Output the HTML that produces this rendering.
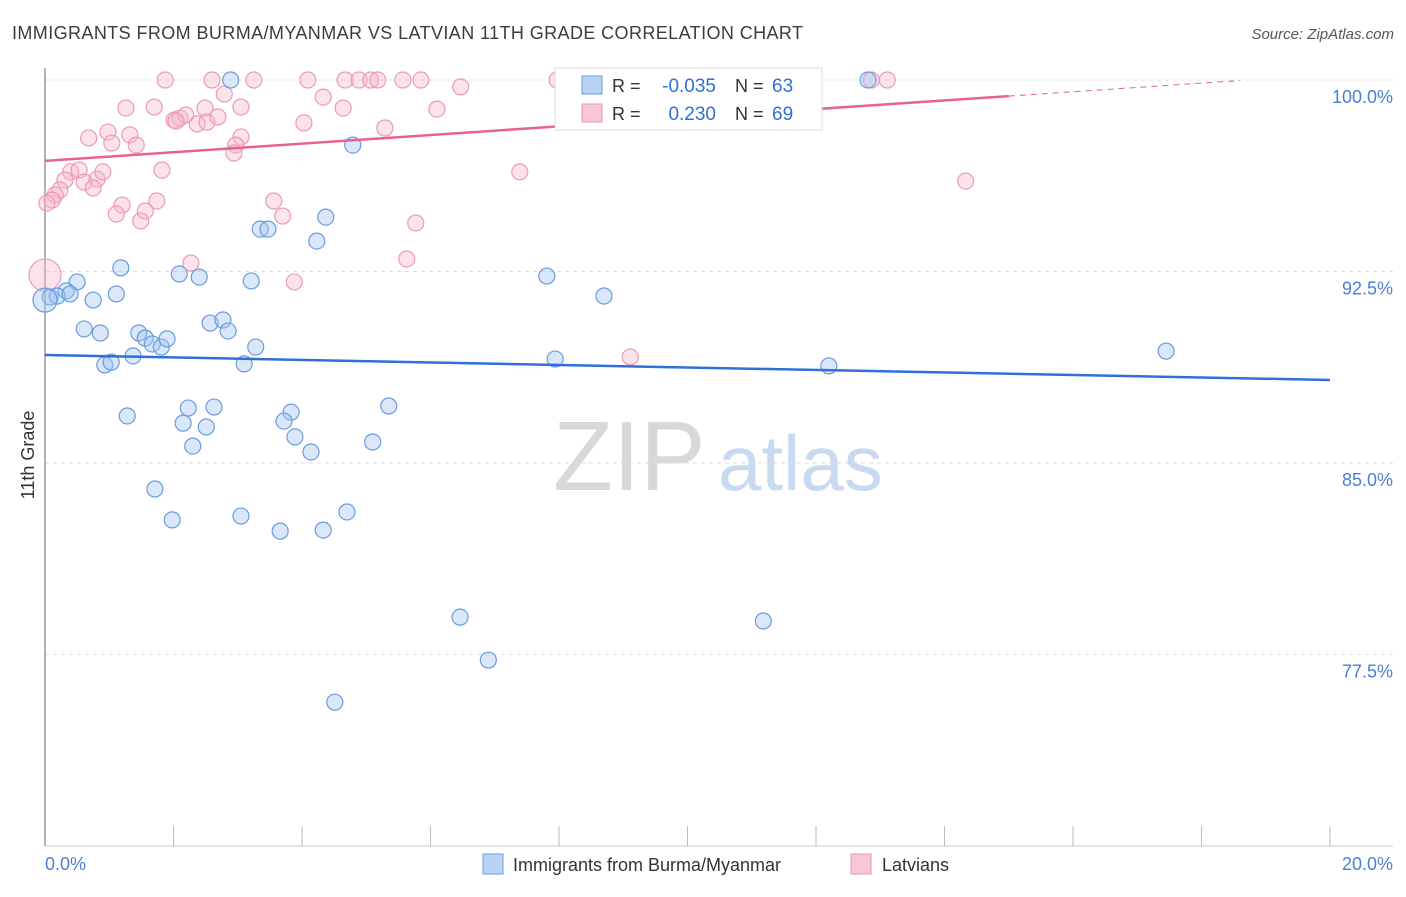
<!DOCTYPE html>
<html><head><meta charset="utf-8"><style>
body{margin:0;background:#fff;font-family:"Liberation Sans",sans-serif;}
svg text{font-family:"Liberation Sans",sans-serif;}
</style></head><body>
<svg id="chart" width="1406" height="892" xmlns="http://www.w3.org/2000/svg">
<text x="12" y="39" font-size="18" fill="#3c3c3c" textLength="791" lengthAdjust="spacing">IMMIGRANTS FROM BURMA/MYANMAR VS LATVIAN 11TH GRADE CORRELATION CHART</text>
<text x="1394" y="39" font-size="15" fill="#555" text-anchor="end" font-style="italic">Source: ZipAtlas.com</text>
<text x="553" y="490" font-size="98" fill="#d8d8d8" font-family="Liberation Serif">ZIP</text>
<text x="718" y="490" font-size="78" fill="#c9daf0">atlas</text>
<g id="grid"></g>
<line x1="45" y1="68" x2="45" y2="846" stroke="#999" stroke-width="1.5"/>
<line x1="45" y1="846" x2="1393" y2="846" stroke="#ccc"/>
<g id="xticks"></g>
<text transform="translate(34,455) rotate(-90)" font-size="18" fill="#333" text-anchor="middle">11th Grade</text>
<text x="45" y="870" font-size="18" fill="#4a7fd4">0.0%</text>
<text x="1393" y="870" font-size="18" fill="#4a7fd4" text-anchor="end">20.0%</text>
<g id="pink"></g><g id="blue"></g><g id="trends"></g>
<g>
<rect x="555" y="68" width="267" height="62" fill="#fff" stroke="#ddd"/>
<rect x="582" y="76" width="20" height="18" fill="#b9d3f5" stroke="#6a9be0"/>
<rect x="582" y="104" width="20" height="18" fill="#f9c6d5" stroke="#e895ae"/>
<text x="612" y="92" font-size="18" fill="#333">R =</text>
<text x="716" y="92" font-size="19" fill="#2f6fd6" text-anchor="end">-0.035</text>
<text x="735" y="92" font-size="18" fill="#333">N =</text>
<text x="772" y="92" font-size="19" fill="#2f6fd6">63</text>
<text x="612" y="120" font-size="18" fill="#333">R =</text>
<text x="716" y="120" font-size="19" fill="#2f6fd6" text-anchor="end">0.230</text>
<text x="735" y="120" font-size="18" fill="#333">N =</text>
<text x="772" y="120" font-size="19" fill="#2f6fd6">69</text>
</g>
<g>
<rect x="483" y="854" width="20" height="20" fill="#b9d3f5" stroke="#6a9be0"/>
<text x="513" y="871" font-size="18" fill="#333">Immigrants from Burma/Myanmar</text>
<rect x="851" y="854" width="20" height="20" fill="#f9c6d5" stroke="#e895ae"/>
<text x="882" y="871" font-size="18" fill="#333">Latvians</text>
</g>
</svg>
<script>
const yTicks=[100,92.5,85,77.5];
const yTickLabels=["100.0%","92.5%","85.0%","77.5%"];
const blueX=[2.89,12.81,4.79,3.35,3.47,4.37,4.23,1.18,2.09,2.40,3.21,7.81,0.50,0.33,0.08,0.19,0.39,0.75,1.11,8.70,2.57,2.77,2.85,0.61,0.86,1.46,1.56,1.67,1.81,1.90,3.28,1.37,0.93,1.03,3.10,7.94,12.20,17.45,1.28,2.23,2.63,5.35,3.83,3.72,2.15,2.51,3.89,2.30,4.14,5.10,1.71,1.98,3.05,4.70,3.66,4.33,6.46,11.18,6.90,4.51,0];
const blueY=[100,100,97.45,94.16,94.16,94.63,93.69,92.64,92.40,92.28,92.13,92.32,92.09,91.74,91.50,91.54,91.62,91.38,91.62,91.54,90.48,90.60,90.17,90.25,90.09,90.09,89.89,89.66,89.54,89.86,89.54,89.19,88.84,88.95,88.88,89.07,88.80,89.38,86.84,87.15,87.19,87.23,86.99,86.64,86.56,86.41,86.02,85.66,85.43,85.82,83.98,82.77,82.92,83.08,82.33,82.37,78.96,78.81,77.28,75.63,91.38];
const pinkX=[1.87,2.60,3.25,4.09,4.67,4.89,5.07,5.18,5.57,5.85,7.97,10.41,12.86,13.11,2.79,4.33,6.47,1.26,1.70,3.05,4.64,6.10,2.49,0.68,0.98,1.32,1.04,1.42,2.01,2.10,2.19,2.37,2.52,2.69,2.04,3.05,2.97,2.94,4.03,5.29,1.82,0.40,0.53,0.61,0.81,0.90,0.31,0.75,0.23,0.16,0.11,0.03,1.20,1.11,1.49,1.74,1.56,3.56,3.70,5.77,2.27,3.88,5.63,7.39,14.33,9.11,0];
const pinkY=[100,100,100,100,100,100,100,100,100,100,100,100,100,100,99.45,99.33,99.73,98.90,98.94,98.94,98.90,98.86,98.90,97.73,97.96,97.85,97.53,97.45,98.43,98.51,98.63,98.28,98.35,98.55,98.39,97.77,97.45,97.14,98.32,98.12,96.47,96.40,96.47,96.00,96.12,96.40,96.08,95.77,95.69,95.50,95.30,95.18,95.10,94.75,94.48,95.26,94.87,95.26,94.67,94.40,92.83,92.09,92.99,96.40,96.04,89.15,92.36];
const blueTrend=[89.23,88.25];
const pinkTrend=[96.83,99.37];
const pinkDashEnd=18.6;
const X=v=>45+v*64.25, Y=v=>80+(100-v)*25.53;
const NS="http://www.w3.org/2000/svg";
function mk(tag,attrs,parent){const e=document.createElementNS(NS,tag);for(const k in attrs)e.setAttribute(k,attrs[k]);parent.appendChild(e);return e;}
const grid=document.getElementById('grid');
yTicks.forEach((t,i)=>{
  const l=mk('line',{x1:45,x2:1393,y1:Y(t),y2:Y(t),stroke:'#ddd','stroke-dasharray':'4,4'},grid);
  
  
  const tx=mk('text',{x:1393,y:Y(t)+23,'font-size':18,fill:'#4a7fd4','text-anchor':'end'},grid);
  tx.textContent=yTickLabels[i];
  
  
});
const xt=document.getElementById('xticks');
for(let i=1;i<=10;i++){
  const l=mk('line',{x1:X(i*2),x2:X(i*2),y1:826,y2:846,stroke:'#bbb'},xt);
  
  
}
const bg=document.getElementById('blue');
blueX.forEach((v,i)=>{
  const c=mk('circle',{cx:X(v),cy:Y(blueY[i]),r:i==blueX.length-1?12:8,fill:'rgba(160,196,240,0.4)',stroke:'#6a9be0','stroke-width':1.2},bg);
  
  
});
const pg=document.getElementById('pink');
pinkX.forEach((v,i)=>{
  const c=mk('circle',{cx:X(v),cy:Y(pinkY[i]),r:i==pinkX.length-1?16:8,fill:'rgba(248,182,202,0.4)',stroke:'#ea9bb4','stroke-width':1.2},pg);
  
  
});
const tg=document.getElementById('trends');
const bt=mk('line',{x1:X(0),y1:Y(blueTrend[0]),x2:X(20),y2:Y(blueTrend[1]),stroke:'#2f6fd6','stroke-width':2.5},tg);


const pt=mk('line',{x1:X(0),y1:Y(pinkTrend[0]),x2:X(15),y2:Y(pinkTrend[1]),stroke:'#e8628e','stroke-width':2.5},tg);


const slope=(pinkTrend[1]-pinkTrend[0])/15;
const pd=mk('line',{x1:X(15),y1:Y(pinkTrend[1]),x2:X(pinkDashEnd),y2:Y(pinkTrend[0]+slope*pinkDashEnd),stroke:'#e8628e','stroke-width':1,'stroke-dasharray':'6,5'},tg);


</script>
</body></html>
